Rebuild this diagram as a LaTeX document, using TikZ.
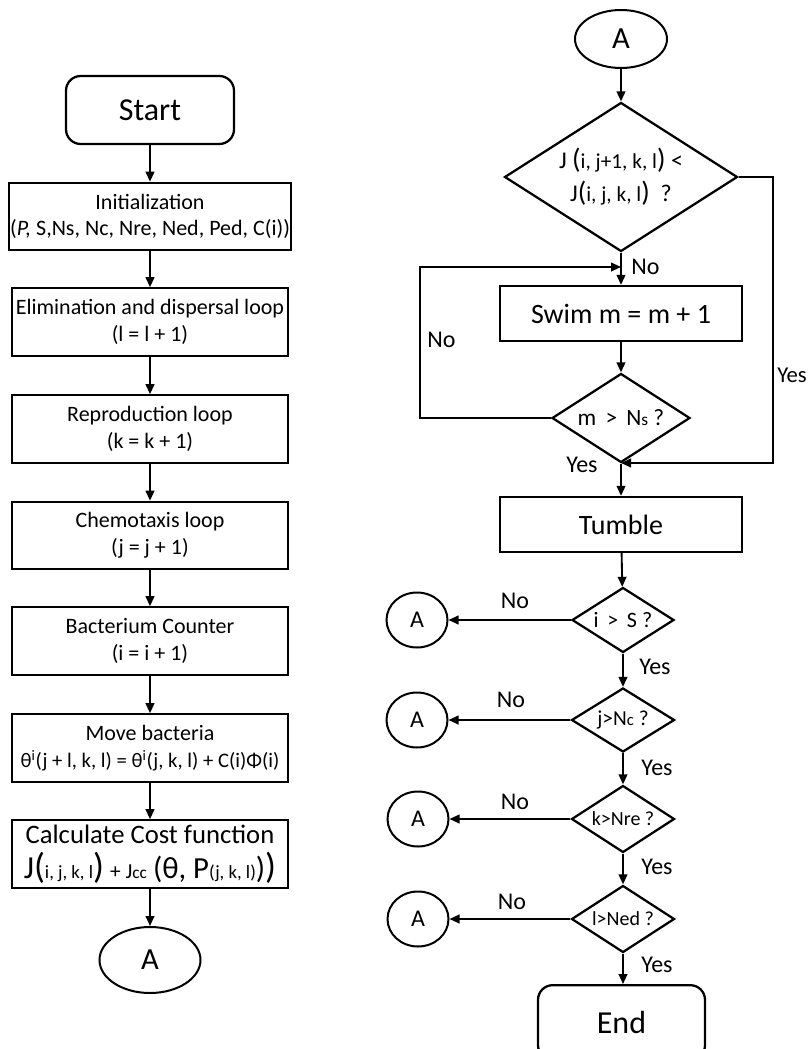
\documentclass[tikz,border=0pt]{standalone}
\usepackage{fontspec}
\setmainfont{Carlito}
\usetikzlibrary{shapes.geometric,arrows.meta}
\newcommand\fsz[2]{\fontsize{#1}{#2}\selectfont}
\newcommand\zw[1]{\makebox[0pt]{#1}}
\begin{document}
\begin{tikzpicture}[x=0.75pt,y=-0.75pt,
 every node/.style={font=\fsz{16.5}{20}},
 box/.style={draw,line width=1.7pt,minimum width=207pt,minimum height=50.5pt,align=center,inner sep=1pt},
 procbox/.style={draw,line width=1.7pt,minimum width=181.5pt,minimum height=41.25pt,align=center,font=\fsz{21}{24}},
 term/.style={draw,line width=1.7pt,rounded corners=11pt,align=center,font=\fsz{24}{28}},
 conn/.style={draw,ellipse,line width=1.5pt,inner sep=0pt},
 dec/.style={draw,diamond,line width=1.7pt,inner sep=0pt,align=center},
 arr/.style={line width=1.4pt,-{Triangle[length=7.5pt,width=6.5pt]}},
 lbl/.style={font=\fsz{18}{20},inner sep=0pt}]
\useasboundingbox (0,0) rectangle (808,1049);
% ---------- left column ----------
\node[term,minimum width=126pt,minimum height=51pt] (start) at (150,110) {Start};
\node[box] (init) at (150,216.5) {Initialization\\(\textit{P,} S,Ns, Nc, Nre, Ned, Ped, C(i))};
\node[box] (elim) at (150,322) {Elimination and dispersal loop\\(l = l + 1)};
\node[box] (repro) at (150,429) {Reproduction loop\\(k = k + 1)};
\node[box] (chemo) at (150,535.5) {Chemotaxis loop\\(j = j + 1)};
\node[box] (bact) at (150,641) {Bacterium Counter\\(i = i + 1)};
\node[box] (move) at (150,748) {Move bacteria\\{\fsz{15.5}{20}θ\textsuperscript{i}(j + l, k, l) = θ\textsuperscript{i}(j, k, l) + C(i)Φ(i)}};
\node[box,font=\fsz{20}{26}] (calc) at (150,854) {Calculate Cost function\\{\fsz{24}{26}J}{\fsz{27}{26}(}{\fsz{14}{20}i, j, k, l}{\fsz{27}{26})} {\fsz{16}{20}+ J}{\fsz{13}{20}cc} {\fsz{23}{26}(θ, P}{\fsz{14}{20}(j, k, l)}{\fsz{23}{26})}{\fsz{27}{26})}};
\node[conn,minimum width=75.75pt,minimum height=49.5pt,font=\fsz{23}{26}] (aL) at (150,960) {A};
\draw[arr] (start) -- (init);
\draw[arr] (init) -- (elim);
\draw[arr] (elim) -- (repro);
\draw[arr] (repro) -- (chemo);
\draw[arr] (chemo) -- (bact);
\draw[arr] (bact) -- (move);
\draw[arr] (move) -- (calc);
\draw[arr] (calc) -- (aL);
% ---------- right column ----------
\node[conn,minimum width=69pt,minimum height=43.5pt,font=\fsz{23}{26}] (aT) at (621,39) {A};
\node[dec,minimum width=174.75pt,minimum height=111.75pt,font=\fsz{18}{25}] (d1) at (621,177)
  {\zw{J {\fsz{21}{25}(}{\fsz{16}{25}i, j+1, k, l}{\fsz{21}{25})} <}\\\zw{J{\fsz{21}{25}(}{\fsz{16}{25}i, j, k, l}{\fsz{21}{25})}\ \ ?}};
\node[procbox] (swim) at (621,313.5) {Swim m = m + 1};
\node[dec,minimum width=103.5pt,minimum height=66.75pt,font=\fsz{17.5}{18}] (d2) at (621,418) {\zw{m \,\textgreater{}\, N{\fsz{13}{13}s} ?}};
\node[procbox] (tumble) at (621,524.5) {Tumble};
\node[dec,minimum width=76.5pt,minimum height=48.75pt,font=\fsz{16.5}{16}] (d3) at (623,620) {\zw{i \,\textgreater{}\, S ?}};
\node[dec,minimum width=77.25pt,minimum height=48pt,font=\fsz{16}{15}] (d4) at (623,720) {\zw{j\textgreater N{\fsz{12.5}{12}c} ?}};
\node[dec,minimum width=77.25pt,minimum height=50.25pt,font=\fsz{15}{14}] (d5) at (623,819) {\zw{k\textgreater Nre ?}};
\node[dec,minimum width=77.25pt,minimum height=50.25pt,font=\fsz{15}{14}] (d6) at (623,919) {\zw{l\textgreater Ned ?}};
\node[term,minimum width=125.25pt,minimum height=56pt] (end) at (621.5,1022.5) {End};
\node[conn,minimum width=45.75pt,minimum height=41.25pt,font=\fsz{18}{20}] (a1) at (417,620) {A};
\node[conn,minimum width=45.75pt,minimum height=41.25pt,font=\fsz{18}{20}] (a2) at (417,720) {A};
\node[conn,minimum width=45.75pt,minimum height=41.25pt,font=\fsz{18}{20}] (a3) at (418,819) {A};
\node[conn,minimum width=45.75pt,minimum height=41.25pt,font=\fsz{18}{20}] (a4) at (418,919) {A};
\coordinate (noin) at (621,267);
\coordinate (loopL) at (420,267);
\coordinate (yesR) at (773,463);
\coordinate (yesin) at (621,463);
\draw[arr] (aT) -- (d1);
\draw[arr] (d1) -- (swim);
\draw[arr] (swim) -- (d2);
\draw[arr] (d2.west) -| (loopL) -- (noin);
\draw[arr] (d1.east) -| (yesR) -- (yesin);
\draw[arr] (d2) -- (tumble);
\draw[arr] (tumble) -- (d3);
\draw[arr] (d3) -- (d4);
\draw[arr] (d4) -- (d5);
\draw[arr] (d5) -- (d6);
\draw[arr] (d6.south) -- (d6.south |- end.north);
\draw[arr] (d3.west) -- (a1);
\draw[arr] (d4.west) -- (a2);
\draw[arr] (d5.west) -- (a3);
\draw[arr] (d6.west) -- (a4);
% ---------- labels ----------
\node[lbl,anchor=west] (lno1) at (631,267) {No};
\node[lbl,anchor=west] (lno2) at (427,340) {No};
\node[lbl,anchor=west,font=\fsz{17}{20}] (lyes1) at (777,375) {Yes};
\node[lbl,anchor=west] (lyes2) at (566,465) {Yes};
\node[lbl] (lno3) at (515,601) {No};
\node[lbl,anchor=west] (lyes3) at (639,667) {Yes};
\node[lbl] (lno4) at (511,700) {No};
\node[lbl,anchor=west] (lyes4) at (641,768) {Yes};
\node[lbl] (lno5) at (515,802) {No};
\node[lbl,anchor=west] (lyes5) at (641,867) {Yes};
\node[lbl] (lno6) at (512,902) {No};
\node[lbl,anchor=west] (lyes6) at (641,965) {Yes};
\end{tikzpicture}
\end{document}
